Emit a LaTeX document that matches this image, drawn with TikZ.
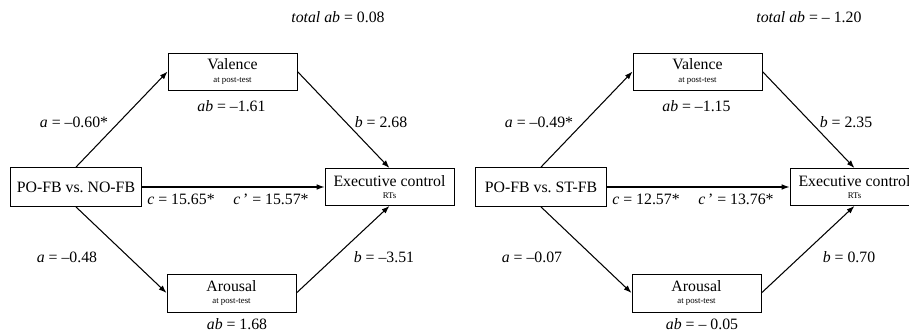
\documentclass[tikz,border=0pt]{standalone}
\usepackage{fontspec}
\setmainfont{Liberation Serif}
\usetikzlibrary{arrows.meta}

\tikzset{
  var/.style={draw, line width=0.5pt, minimum width=2.58cm, minimum height=0.74cm, inner sep=0, align=center, font=\fontsize{9}{7}\selectfont},
  lbl/.style={inner sep=0, font=\fontsize{9}{10}\selectfont},
  path/.style={-{Latex[length=4.5pt,width=3.2pt]}, line width=0.6pt},
}
\newcommand{\sub}[1]{{\fontsize{5}{6}\selectfont #1}}

\begin{document}
\begin{tikzpicture}[x=0.02cm, y=-0.02cm]
\useasboundingbox (0,0) rectangle (909,331);
\foreach \i/\dx/\grp/\tot/\av/\bv/\abv/\c/\cp/\aa/\ba/\aba in
 {1/0/NO-FB/0.08/–0.60*/2.68/–1.61/15.65*/15.57*/–0.48/–3.51/1.68,
  2/465/ST-FB/– 1.20/–0.49*/2.35/–1.15/12.57*/13.76*/–0.07/0.70/– 0.05} {
 \node[var, minimum width=2.62cm, minimum height=0.78cm] (po\i) at ({\dx+76},187) {PO-FB vs.\ \grp};
 \node[var] (val\i) at ({\dx+232.5},71.5) {Valence\\\sub{at post-test}};
 \node[var, minimum height=0.76cm] (aro\i) at ({\dx+231.5},293) {Arousal\\\sub{at post-test}};
 \node[var] (exe\i) at ({\dx+389.5},187) {Executive control\\\sub{RTs}};
 \draw[path] (po\i.north) -- (val\i.west);
 \draw[path] (val\i.east) -- (exe\i.north);
 \draw[path] (po\i.south) -- (aro\i.west);
 \draw[path] (aro\i.east) -- (exe\i.south);
 \draw[path] (po\i.east) -- (po\i.east -| exe\i.west);
 \node[lbl, anchor=west] (tot\i) at ({\dx+291},17) {\textit{total ab} = \tot};
 \node[lbl, anchor=west] (abv\i) at ({\dx+197},106) {\textit{ab} = \abv};
 \node[lbl] (av\i) at ({\dx+74},122) {\textit{a} = \av};
 \node[lbl] (bv\i) at ({\dx+381},122) {\textit{b} = \bv};
 \node[lbl] (c\i) at ({\dx+181},199) {\textit{c} = \c};
 \node[lbl] (cp\i) at ({\dx+271},199) {\textit{c\,}' = \cp};
 \node[lbl] (aa\i) at ({\dx+67},257) {\textit{a} = \aa};
 \node[lbl] (ba\i) at ({\dx+384},257) {\textit{b} = \ba};
 \node[lbl] (aba\i) at ({\dx+237},324) {\textit{ab} = \aba};
}
\end{tikzpicture}
\end{document}
